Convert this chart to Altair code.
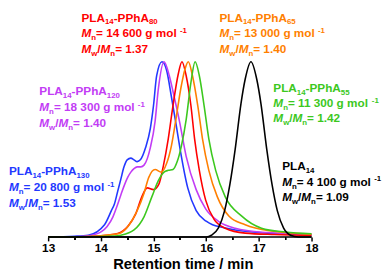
import altair as alt
import pandas as pd

# ---------------- data ----------------
series_names = ["PLA14-PPhA130", "PLA14-PPhA120", "PLA14-PPhA80",
                "PLA14-PPhA65", "PLA14-PPhA55", "PLA14"]
series_colors = ["#2338FF", "#C23CF5", "#FF0000", "#FF7F00", "#3CC81E", "#000000"]

blue_t = [13.0, 13.5, 13.76, 14.07, 14.2, 14.26, 14.32, 14.38, 14.44, 14.5, 14.57, 14.63,
          14.69, 14.75, 14.85, 14.94, 15.0, 15.06, 15.16, 15.25, 15.34, 15.43, 15.5, 15.65,
          15.81, 16.0, 16.12, 16.3, 16.55, 17.16, 17.6, 18.0]
blue_h = [0.0, 0.004, 0.01, 0.07, 0.15, 0.19, 0.26, 0.33, 0.40, 0.44, 0.45, 0.44,
          0.43, 0.44, 0.51, 0.62, 0.75, 0.92, 1.0, 0.95, 0.80, 0.64, 0.51, 0.28,
          0.15, 0.09, 0.07, 0.055, 0.04, 0.022, 0.016, 0.012]

mag_t = [13.0, 13.6, 13.8, 14.01, 14.12, 14.23, 14.3, 14.38, 14.44, 14.51, 14.57, 14.63,
         14.69, 14.76, 14.82, 14.94, 15.03, 15.09, 15.2, 15.3, 15.37, 15.5, 15.62, 15.81,
         15.99, 16.24, 16.55, 17.16, 17.6, 18.0]
mag_h = [0.0, 0.003, 0.008, 0.03, 0.06, 0.115, 0.17, 0.24, 0.29, 0.34, 0.37, 0.39,
         0.40, 0.40, 0.41, 0.51, 0.66, 0.84, 1.0, 0.92, 0.83, 0.65, 0.46, 0.27,
         0.16, 0.088, 0.05, 0.025, 0.018, 0.014]

red_t = [13.0, 13.8, 14.1, 14.32, 14.51, 14.66, 14.78, 14.88, 15.0, 15.1, 15.19, 15.28,
         15.37, 15.47, 15.54, 15.62, 15.71, 15.78, 15.87, 15.99, 16.15, 16.36, 16.74, 17.3, 18.0]
red_h = [0.0, 0.003, 0.01, 0.02, 0.06, 0.13, 0.23, 0.28, 0.27, 0.30, 0.41, 0.56,
         0.75, 0.93, 1.0, 0.92, 0.75, 0.56, 0.38, 0.21, 0.10, 0.05, 0.022, 0.014, 0.009]

org_t = [13.0, 13.8, 14.1, 14.35, 14.54, 14.69, 14.82, 14.91, 15.03, 15.15, 15.25, 15.34,
         15.43, 15.52, 15.6, 15.66, 15.74, 15.84, 15.93, 16.05, 16.21, 16.43, 16.74, 17.2, 18.0]
org_h = [0.0, 0.003, 0.01, 0.02, 0.07, 0.15, 0.25, 0.34, 0.385, 0.37, 0.42, 0.52,
         0.68, 0.85, 0.96, 1.0, 0.92, 0.75, 0.56, 0.38, 0.23, 0.12, 0.07, 0.035, 0.015]

grn_t = [13.0, 14.0, 14.26, 14.38, 14.63, 14.82, 14.97, 15.09, 15.2, 15.28, 15.37, 15.45,
         15.53, 15.62, 15.71, 15.79, 15.87, 15.96, 16.05, 16.18, 16.36, 16.67, 17.05, 17.5, 18.0]
grn_h = [0.0, 0.002, 0.005, 0.01, 0.04, 0.115, 0.23, 0.32, 0.37, 0.38, 0.385, 0.43,
         0.52, 0.67, 0.88, 1.0, 0.92, 0.75, 0.56, 0.38, 0.23, 0.12, 0.05, 0.028, 0.018]

blk_t = [13.0, 16.0, 16.1, 16.23, 16.35, 16.45, 16.55, 16.66, 16.74, 16.85, 16.96, 17.04,
         17.15, 17.25, 17.35, 17.47, 17.6, 17.75, 18.0]
blk_h = [0.0, 0.0, 0.01, 0.05, 0.15, 0.3, 0.5, 0.76, 0.9, 1.0, 0.9, 0.76,
         0.5, 0.3, 0.15, 0.05, 0.01, 0.0, 0.0]

x_ticks = [13, 14, 15, 16, 17, 18]
x_minor = [13.5, 14.5, 15.5, 16.5, 17.5]
x_title = "Retention time / min"

label_poly = ["130", "120", "80", "65", "55", None]
label_mn = ["20 800", "18 300", "14 600", "13 000", "11 300", "4 100"]
label_d = ["1.53", "1.40", "1.37", "1.40", "1.42", "1.09"]

# ---------------- layout (page pixels) ----------------
PLOT_L, PLOT_T = 8, 8           # page position of the plot area
W, H = 384, 231
X0, Y0 = 49, 239                # page coords of (13, 0)
PPM = 53.8                      # px per minute
PPU = 179.0                     # px per intensity unit
x_dom = [13 - (X0 - PLOT_L) / PPM, 13 + (PLOT_L + W - X0) / PPM]
y_dom = [0, (Y0 - PLOT_T) / PPU]

label_anchor = [(9, [176, 192, 208]), (40, [94, 110.5, 127]), (83, [19, 35, 51]),
                (224, [19, 35, 51]), (279, [90.5, 106.5, 122]), (288, [170.7, 186.7, 202.3])]

CW = {' ': 278, '-': 333, '.': 278, '/': 278, '=': 584, 'A': 722, 'L': 611, 'M': 833,
      'P': 667, 'g': 611, 'h': 611, 'l': 278, 'm': 889, 'n': 611, 'o': 611, 'w': 778}
for d in "0123456789":
    CW[d] = 556
SIZE = {"n": 12, "i": 12, "sub": 8, "sup": 8}
DY = {"n": 0, "i": 0, "sub": 3, "sup": -4.5}

def seg_width(s, style):
    return sum(CW[c] for c in s) * SIZE[style] / 1000.0

rows = []
for k in range(len(series_names)):
    px, bases = label_anchor[k]
    line1 = [("PLA", "n"), ("14", "sub")]
    if label_poly[k]:
        line1 += [("-PPhA", "n"), (label_poly[k], "sub")]
    line2 = [("M", "i"), ("n", "sub"), (" = " + label_mn[k] + " g mol", "n"), ("-1", "sup")]
    line3 = [("M", "i"), ("w", "sub"), ("/", "n"), ("M", "i"), ("n", "sub"), (" = " + label_d[k], "n")]
    for line, base in zip([line1, line2, line3], bases):
        cx = px
        for txt, st in line:
            rows.append({"t": 13 + (cx - X0) / PPM,
                         "h": (Y0 - (base + DY[st])) / PPU,
                         "txt": txt, "style": st, "color": series_colors[k]})
            cx += seg_width(txt, st)
labels = pd.DataFrame(rows)

curves = []
for name, ts, hs in zip(series_names,
                        [blue_t, mag_t, red_t, org_t, grn_t, blk_t],
                        [blue_h, mag_h, red_h, org_h, grn_h, blk_h]):
    for t, h in zip(ts, hs):
        curves.append({"series": name, "t": t, "h": h})
curves = pd.DataFrame(curves)

axis_line = pd.DataFrame({"t": [x_ticks[0]], "t2": [x_ticks[-1]], "h": [0.0]})

FONT = "Liberation Sans"
xscale = alt.Scale(domain=x_dom, nice=False, zero=False)
yscale = alt.Scale(domain=y_dom, nice=False, zero=True)

main_axis = alt.Axis(values=x_ticks, orient="bottom", title=x_title, grid=False, domain=False,
                     tickColor="black", tickWidth=1.5,
                     tickSize=4, labelFont=FONT, labelFontSize=12, labelFontWeight="bold",
                     labelColor="black", labelPadding=2, titleFont=FONT, titleFontSize=15,
                     titleFontWeight="bold", titleColor="black", format="d",
                     titleX=X0 - PLOT_L + 2.5 * PPM + 3, titleY=32.5, titleBaseline="alphabetic",
                     titleAnchor="middle")
minor_axis = alt.Axis(values=x_minor, orient="bottom", title="", grid=False, domain=False,
                      labels=False, tickColor="black", tickWidth=1.2, tickSize=2.5)

lines = alt.Chart(curves).mark_line(strokeWidth=1.6, interpolate="monotone").encode(
    x=alt.X("t:Q", scale=xscale, axis=main_axis),
    y=alt.Y("h:Q", scale=yscale, axis=None),
    color=alt.Color("series:N", scale=alt.Scale(domain=series_names, range=series_colors), legend=None),
    detail="series:N",
)

baseline = alt.Chart(axis_line).mark_rule(color="black", strokeWidth=1.5).encode(
    x=alt.X("t:Q", scale=xscale, axis=minor_axis),
    x2="t2:Q",
    y=alt.Y("h:Q", scale=yscale, axis=None),
)

def text_layer(style, **kw):
    return alt.Chart(labels).transform_filter(alt.datum.style == style).mark_text(
        align="left", baseline="alphabetic", font=FONT, fontWeight="bold",
        fontSize=SIZE[style], **kw
    ).encode(
        x=alt.X("t:Q", scale=xscale, axis=minor_axis),
        y=alt.Y("h:Q", scale=yscale, axis=None),
        text="txt:N",
        color=alt.Color("color:N", scale=None),
    )

chart = alt.layer(
    lines, baseline,
    text_layer("n"), text_layer("i", fontStyle="italic"), text_layer("sub"), text_layer("sup"),
).resolve_axis(x="independent").properties(
    width=W, height=H,
    padding=0,
    background="white",
).configure_view(stroke=None)

chart.save("out.html", embed_options={"renderer": "svg", "actions": False})
